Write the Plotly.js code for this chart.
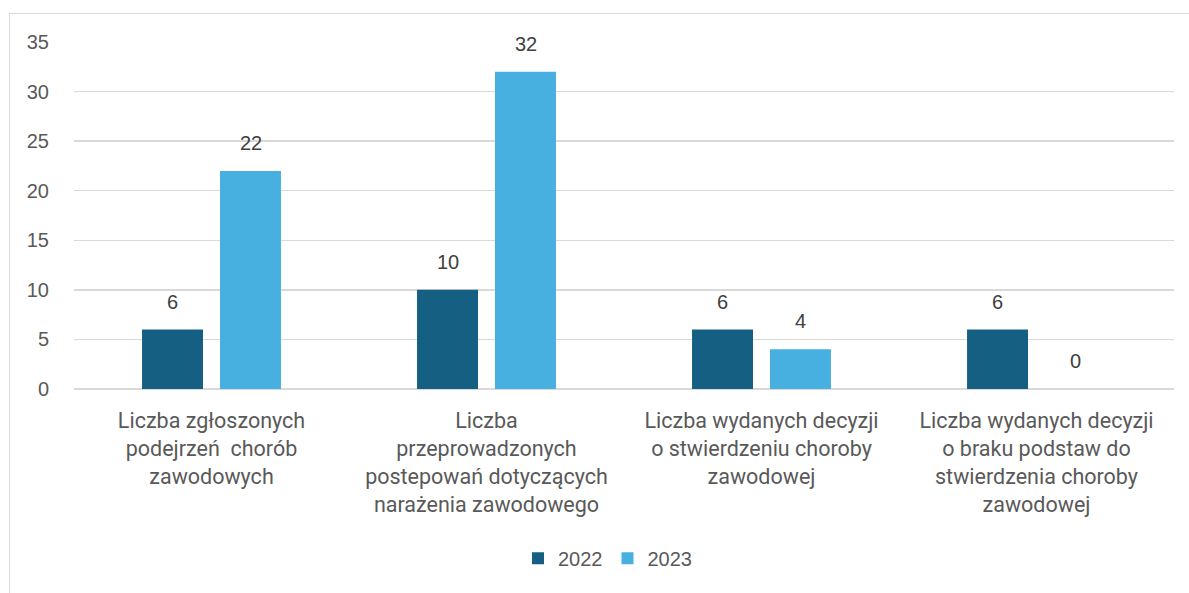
<!DOCTYPE html>
<html><head><meta charset="utf-8">
<script src="https://cdn.plot.ly/plotly-3.0.1.min.js"></script>
<style>
html,body{margin:0;padding:0;background:#fff;overflow:hidden}
#frame{position:absolute;left:9px;top:13px;width:1300px;height:700px;border-left:1.5px solid #d9d9d9;border-top:1.5px solid #d9d9d9;box-sizing:border-box}
#chart{position:absolute;left:0;top:0;width:1189px;height:593px}
</style></head>
<body>
<div id="frame"></div>
<div id="chart"></div>
<script>
const categories = [
  "Liczba zgłoszonych<br>podejrzeń  chorób<br>zawodowych",
  "Liczba<br>przeprowadzonych<br>postepowań dotyczących<br>narażenia zawodowego",
  "Liczba wydanych decyzji<br>o stwierdzeniu choroby<br>zawodowej",
  "Liczba wydanych decyzji<br>o braku podstaw do<br>stwierdzenia choroby<br>zawodowej"
];
const series2022 = [6, 10, 6, 6];
const series2023 = [22, 32, 4, 0];
const seriesNames = ["2022", "2023"];
const yTicks = [0, 5, 10, 15, 20, 25, 30, 35];

const colors = ["#156082", "#47B0E1"];
const allSeries = [series2022, series2023];

const traces = allSeries.map((vals, i) => ({
  type: "bar",
  name: seriesNames[i],
  x: categories,
  y: vals,
  marker: {color: colors[i]},
  hoverinfo: "y+name"
}));

const annotations = [];
allSeries.forEach((vals, i) => {
  vals.forEach((v, j) => {
    annotations.push({
      x: categories[j], y: v, xref: "x", yref: "y",
      text: String(v), showarrow: false,
      xshift: i === 0 ? -39 : 39, yshift: 28,
      font: {family: "Liberation Sans, Arial, sans-serif", size: 20, color: "#404040"}
    });
  });
});

const layout = {
  width: 1189, height: 593,
  margin: {l: 74, r: 15, t: 42, b: 204},
  paper_bgcolor: "rgba(0,0,0,0)",
  plot_bgcolor: "rgba(0,0,0,0)",
  barmode: "group",
  bargap: 0.433,
  bargroupgap: 0.218,
  font: {family: "Liberation Sans, Arial, sans-serif", color: "#595959", size: 18},
  xaxis: {
    showgrid: false, showline: false, zeroline: false,
    ticks: "outside", ticklen: 12, tickcolor: "rgba(0,0,0,0)",
    tickfont: {family: "Roboto, Liberation Sans, sans-serif", size: 21.5, color: "#595959"},
    automargin: false
  },
  yaxis: {
    range: [0, 35], tickvals: yTicks,
    showgrid: true, gridcolor: "#d9d9d9", gridwidth: 1.5,
    zeroline: true, zerolinecolor: "#d9d9d9", zerolinewidth: 1.5,
    showline: false,
    ticks: "outside", ticklen: 20, tickcolor: "rgba(0,0,0,0)",
    tickfont: {family: "Liberation Sans, Arial, sans-serif", size: 20, color: "#595959"},
    automargin: false
  },
  legend: {
    orientation: "h", x: 0.485, xanchor: "center", y: -0.488, yanchor: "middle",
    font: {family: "Liberation Sans, Arial, sans-serif", size: 20, color: "#595959"},
    itemwidth: 30, traceorder: "normal"
  },
  annotations: annotations,
  showlegend: true
};

Plotly.newPlot("chart", traces, layout, {displayModeBar: false, staticPlot: true});
</script>
</body></html>
